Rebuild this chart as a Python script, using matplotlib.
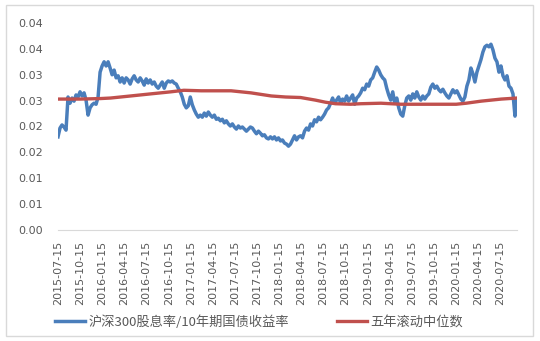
import numpy as np
import pandas as pd
import matplotlib
matplotlib.use('Agg')
import matplotlib.pyplot as plt
from matplotlib.patches import Rectangle

# blue series, evenly spaced samples 2015-07-15 .. 2020-09-22
ratio = [
    0.0180, 0.0197, 0.0203, 0.0199, 0.0193, 0.0257, 0.0245, 0.0255, 0.0249, 0.0261,
    0.0257, 0.0267, 0.0259, 0.0265, 0.0251, 0.0222, 0.0236, 0.0242, 0.0245, 0.0243,
    0.0257, 0.0305, 0.0317, 0.0325, 0.0317, 0.0325, 0.0313, 0.0300, 0.0309, 0.0294,
    0.0298, 0.0286, 0.0294, 0.0284, 0.0294, 0.0290, 0.0282, 0.0292, 0.0298, 0.0290,
    0.0286, 0.0294, 0.0288, 0.0280, 0.0292, 0.0284, 0.0290, 0.0282, 0.0286, 0.0278,
    0.0274, 0.0280, 0.0286, 0.0274, 0.0284, 0.0288, 0.0286, 0.0288, 0.0284, 0.0282,
    0.0274, 0.0267, 0.0257, 0.0243, 0.0236, 0.0240, 0.0257, 0.0242, 0.0232, 0.0224,
    0.0218, 0.0222, 0.0218, 0.0226, 0.0220, 0.0228, 0.0222, 0.0218, 0.0222, 0.0214,
    0.0216, 0.0211, 0.0214, 0.0207, 0.0211, 0.0205, 0.0201, 0.0205, 0.0199, 0.0195,
    0.0201, 0.0197, 0.0199, 0.0195, 0.0191, 0.0195, 0.0199, 0.0197, 0.0191, 0.0186,
    0.0191, 0.0187, 0.0182, 0.0184, 0.0178, 0.0176, 0.0180, 0.0176, 0.0180, 0.0174,
    0.0178, 0.0172, 0.0174, 0.0168, 0.0166, 0.0162, 0.0166, 0.0174, 0.0182, 0.0174,
    0.0180, 0.0182, 0.0178, 0.0191, 0.0197, 0.0193, 0.0205, 0.0201, 0.0213, 0.0209,
    0.0218, 0.0213, 0.0218, 0.0224, 0.0232, 0.0236, 0.0245, 0.0255, 0.0245, 0.0251,
    0.0257, 0.0245, 0.0253, 0.0249, 0.0259, 0.0249, 0.0255, 0.0261, 0.0243, 0.0255,
    0.0259, 0.0265, 0.0274, 0.0271, 0.0282, 0.0278, 0.0290, 0.0294, 0.0305, 0.0315,
    0.0309, 0.0300, 0.0294, 0.0290, 0.0274, 0.0261, 0.0251, 0.0267, 0.0245, 0.0255,
    0.0236, 0.0224, 0.0220, 0.0240, 0.0255, 0.0259, 0.0251, 0.0263, 0.0255, 0.0267,
    0.0257, 0.0251, 0.0259, 0.0253, 0.0259, 0.0263, 0.0276, 0.0282, 0.0274, 0.0278,
    0.0271, 0.0267, 0.0272, 0.0265, 0.0259, 0.0255, 0.0263, 0.0271, 0.0265, 0.0269,
    0.0261, 0.0253, 0.0249, 0.0257, 0.0278, 0.0290, 0.0313, 0.0302, 0.0286, 0.0305,
    0.0317, 0.0329, 0.0344, 0.0354, 0.0357, 0.0354, 0.0359, 0.0348, 0.0332, 0.0325,
    0.0305, 0.0317, 0.0298, 0.0290, 0.0298, 0.0278, 0.0274, 0.0263, 0.0220, 0.0251,
]
ratio_dates = pd.date_range('2015-07-15', '2020-09-22', periods=len(ratio))

# red series: five-year rolling median
median_dates = pd.to_datetime([
    '2015-07-15', '2015-10-15', '2016-01-07', '2016-02-17', '2016-05-10', '2016-07-31',
    '2016-10-23', '2016-12-16', '2017-02-25', '2017-06-29', '2017-09-19', '2017-12-12',
    '2018-02-09', '2018-04-12', '2018-06-12', '2018-07-23', '2018-09-03', '2018-11-05',
    '2018-12-16', '2019-03-10', '2019-05-31', '2019-10-02', '2020-01-15', '2020-02-25',
    '2020-04-27', '2020-07-19', '2020-09-22',
])
median = [
    0.0253, 0.0253, 0.0254, 0.0255, 0.0259, 0.0263,
    0.0267, 0.0270, 0.0269, 0.0269, 0.0265, 0.0259,
    0.0257, 0.0256, 0.0251, 0.0247, 0.0244, 0.0243,
    0.0244, 0.0245, 0.0243, 0.0243, 0.0243, 0.0245,
    0.0249, 0.0253, 0.0255,
]

tick_dates = pd.date_range('2015-07-01', '2020-07-01', freq='3MS') + pd.Timedelta(days=14)
y_ticks = [0.0, 0.005, 0.01, 0.015, 0.02, 0.025, 0.03, 0.035, 0.04]
y_labels = ['0.00', '0.01', '0.01', '0.02', '0.02', '0.03', '0.03', '0.04', '0.04']

label_blue = '沪深300股息率/10年期国债收益率'
label_red = '五年滚动中位数'

gray = '#595959'
fig = plt.figure(figsize=(5.4, 3.41), dpi=100)
ax = fig.add_axes([58/540, 1 - 230/341, (517 - 58)/540, (230 - 23)/341])

ax.plot(ratio_dates, ratio, color='#4a7ebb', lw=2.5, label=label_blue, solid_joinstyle='round')
ax.plot(median_dates, median, color='#c0504d', lw=2.4, label=label_red)

ax.set_ylim(0, 0.04)
ax.set_yticks(y_ticks)
ax.set_yticklabels(y_labels)
ax.set_xlim(pd.Timestamp('2015-07-15'), pd.Timestamp('2020-09-22'))
ax.set_xticks(tick_dates)
ax.set_xticklabels([d.strftime('%Y-%m-%d') for d in tick_dates], rotation=90)

for s in ['top', 'right', 'left']:
    ax.spines[s].set_visible(False)
ax.spines['bottom'].set_color('#d9d9d9')
ax.tick_params(axis='both', length=0, colors=gray, labelsize=8)
ax.tick_params(axis='y', pad=11)
ax.tick_params(axis='x', pad=8)

fig.legend(loc='center left', bbox_to_anchor=(55/540, 1 - 322/341), ncol=2, frameon=False,
           borderpad=0, borderaxespad=0, handlelength=2.3, handletextpad=0.25,
           columnspacing=3.6, labelcolor=gray,
           prop={'family': ['Noto Sans CJK SC', 'DejaVu Sans'], 'size': 9.5})

fig.patches.append(Rectangle((6/540, 1 - 336/341), 527/540, 331/341, transform=fig.transFigure,
                             fill=False, edgecolor='#d9d9d9', lw=1))

fig.savefig('out.png', dpi=100)
